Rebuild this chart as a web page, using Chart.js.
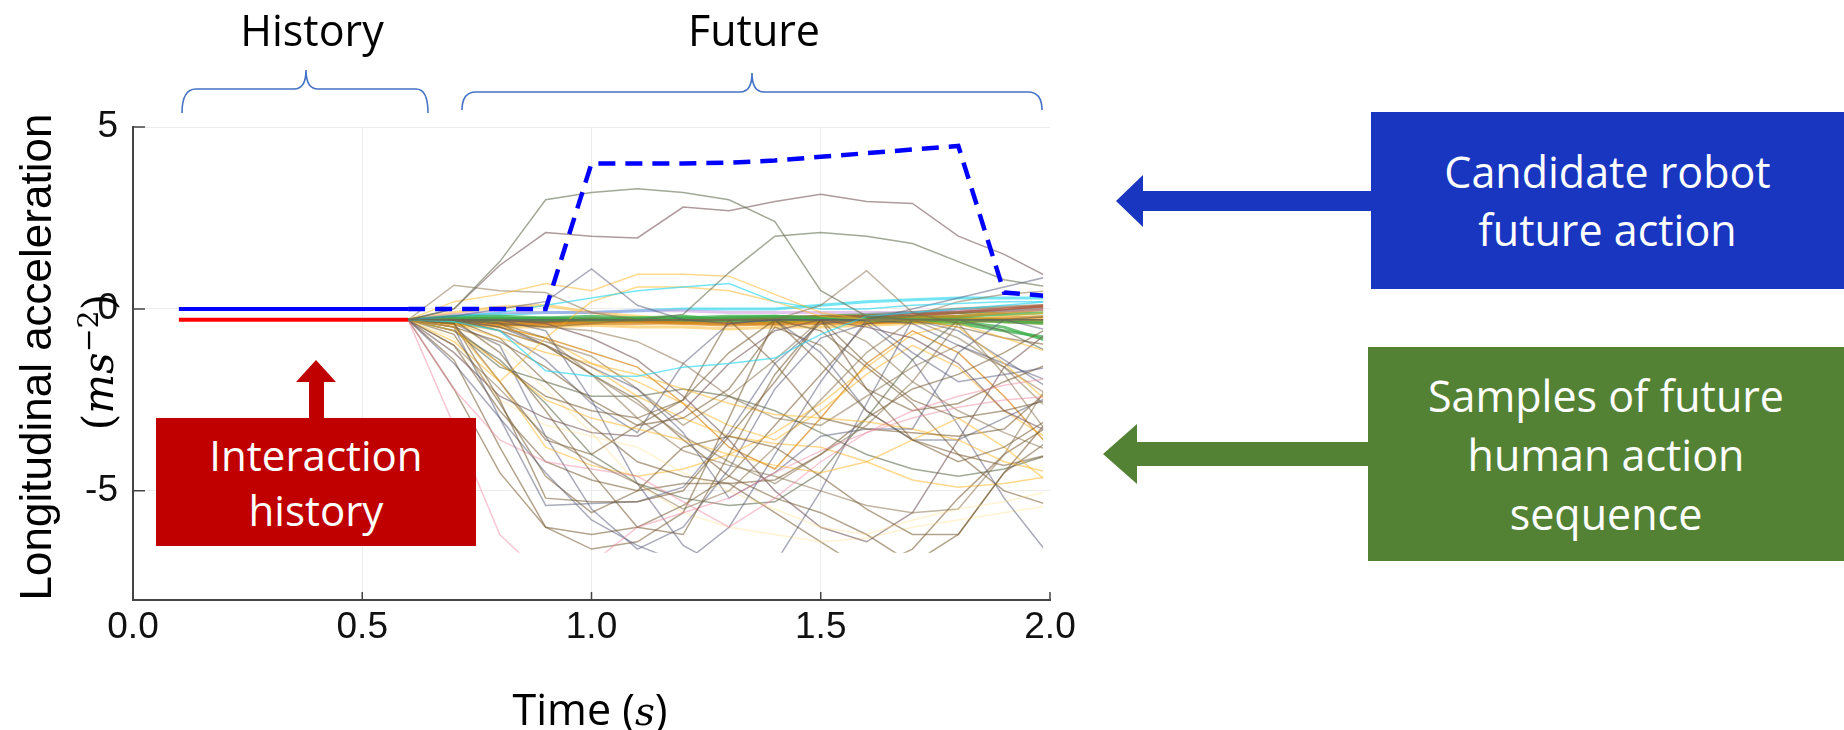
<!DOCTYPE html>
<html lang="en">
<head>
<meta charset="UTF-8">
<title>Candidate robot action and sampled human actions</title>
<script src="https://cdn.jsdelivr.net/npm/chart.js"></script>
<style>
    body { margin: 0; background: #fff; }
    #stage { position: relative; width: 1844px; height: 730px; overflow: hidden; font-family: 'Open Sans', sans-serif; }
    #plot { position: absolute; left: 0; top: 0; width: 1100px; height: 730px; }
    .label { position: absolute; white-space: nowrap; color: #000; line-height: 1; }
    .box { position: absolute; color: #fff; display: flex; align-items: center; justify-content: center; text-align: center; }
    svg.overlay { position: absolute; left: 0; top: 0; }
</style>
</head>
<body>
<div id="stage">
    <div id="plot"><canvas id="accelChart"></canvas></div>

    <svg class="overlay" width="1844" height="730">
        <!-- braces over the time axis -->
        <path d="M182,113 Q182,89 196,89 L294,89 Q306,89 306,70 Q306,89 318,89 L416,89 Q428,89 428,113" fill="none" stroke="#4472c4" stroke-width="1.6"/>
        <path d="M462,110 Q462,92 476,92 L740,92 Q752,92 752,73 Q752,92 764,92 L1028,92 Q1042,92 1042,110" fill="none" stroke="#4472c4" stroke-width="1.6"/>
        <!-- arrows -->
        <polygon points="1371,191 1143,191 1143,175 1116,201 1143,227 1143,211 1371,211" fill="#1836c0"/>
        <polygon points="1368,442 1137,442 1137,424 1103,454 1137,484 1137,466 1368,466" fill="#548235"/>
        <polygon points="309,419 309,382 296,382 316,360 336,382 324,382 324,419" fill="#c00000"/>
    </svg>

    <div class="label" style="left:312px; top:29px; font-size:43px; transform:translate(-50%,-50%);">History</div>
    <div class="label" style="left:754px; top:29px; font-size:43px; transform:translate(-50%,-50%);">Future</div>

    <div class="label" style="left:36px; top:357px; font-family:'Liberation Sans', Arial, sans-serif; font-size:44px; transform:translate(-50%,-50%) rotate(-90deg);">Longitudinal acceleration</div>
    <div class="label" style="left:97px; top:362px; font-family:'DejaVu Serif', serif; font-size:42px; transform:translate(-50%,-50%) rotate(-90deg);">(<i>ms</i><sup style="font-size:0.68em;">−2</sup>)</div>

    <div class="label" style="left:590px; top:709px; font-size:43px; transform:translate(-50%,-50%);">Time (<i style="font-family:'DejaVu Serif', serif; font-size:0.9em;">s</i>)</div>

    <div class="box" style="left:1371px; top:112px; width:473px; height:177px; background:#1836c0; font-size:43px; line-height:58px;">Candidate robot<br>future action</div>
    <div class="box" style="left:1368px; top:347px; width:476px; height:214px; background:#548235; font-size:43px; line-height:59px;">Samples of future<br>human action<br>sequence</div>
    <div class="box" style="left:156px; top:418px; width:320px; height:128px; background:#c00000; font-size:42px; line-height:55px;">Interaction<br>history</div>
</div>

<script>
    // axis ranges and ticks
    const xMin = 0, xMax = 2;
    const yMin = -8, yMax = 5;
    const xTickValues = [0, 0.5, 1.0, 1.5, 2.0];
    const yTickValues = [-5, 0, 5];

    // interaction history (0.1 s .. 0.6 s)
    const historyTimes = [0.1, 0.6];
    const robotHistory = [0, 0];
    const humanHistory = [-0.3, -0.3];

    // future steps, 0.1 s apart
    const futureTimes = [0.6, 0.7, 0.8, 0.9, 1.0, 1.1, 1.2, 1.3, 1.4, 1.5, 1.6, 1.7, 1.8, 1.9, 2.0];
    const robotPlan = [0, 0, 0, 0, 4.0, 4.0, 4.0, 4.02, 4.08, 4.18, 4.28, 4.38, 4.48, 0.45, 0.35];

    // sampled human action sequences (same time steps as futureTimes)
    const humanSamples = [
        [-0.3, 0.0, 1.3, 3.0, 3.2, 3.3, 3.2, 3.0, 2.4, 0.5, -0.2, -0.3, -0.3, -0.3, -0.2],
        [-0.3, 0.0, 1.2, 2.1, 2.0, 1.95, 2.8, 2.7, 2.95, 3.15, 2.95, 2.9, 2.0, 1.5, 0.85],
        [-0.3, -0.3, -0.3, -0.35, -0.3, -0.3, -0.15, 1.0, 2.0, 2.1, 2.0, 1.8, 1.3, 0.8, 0.6],
        [-0.3, -0.2, 0.0, 0.2, 1.1, 0.1, -0.3, -0.4, -0.3, -0.3, -0.3, -0.3, -0.3, -0.3, -0.3],
        [-0.3, -0.3, -0.4, -0.5, -0.4, -0.3, -0.3, -0.3, -0.3, 0.1, 1.05, -0.1, -0.4, -0.3, -0.3],
        [-0.3, 0.2, 0.4, 0.7, 0.5, 0.95, 0.95, 0.9, 0.4, -0.1, -0.3, -0.3, -0.3, -0.2, -0.1],
        [-0.3, -0.2, -0.1, 0.1, 0.3, 0.5, 0.6, 0.7, 0.2, 0.0, 0.0, 0.1, 0.15, 0.2, 0.2],
        [-0.3, -0.35, -0.6, -1.7, -1.85, -1.85, -1.6, -1.5, -1.35, -0.7, -0.2, -0.1, 0.0, 0.1, 0.2],
        [-0.3, 0.65, 0.5, 0.45, -0.1, -0.3, -0.3, -0.3, -0.3, -0.3, -0.3, -0.3, -0.3, -0.3, -0.3],
        [-0.3, -0.3, -0.3, -0.3, -0.3, -0.3, -0.3, -0.3, -0.3, -0.3, -0.3, 0.0, 0.3, 0.6, 0.9],
        [-0.3, -0.3, -0.3, -0.3, -0.3, -0.3, -0.3, -0.3, -0.3, -0.3, -0.3, -0.2, 0.2, 0.4, 0.5],
        [-0.3, -0.5, -2.0, -0.8, 0.2, 0.6, 0.6, 0.5, 0.2, -0.2, -0.3, -0.3, -0.5, -1.5, -2.6],
        [-0.3, -0.4, -2.5, -5.2, -5.3, -5.3, -5.0, -3.5, -2.0, -0.3, -1.5, -2.5, -3.0, -2.8, -2.5],
        [-0.3, -0.5, -3.0, -5.4, -5.35, -5.3, -4.9, -3.4, -1.5, -0.4, -0.3, -1.2, -2.0, -1.8, -1.6],
        [-0.3, -1.0, -2.2, -3.5, -4.2, -4.8, -5.5, -5.0, -3.8, -2.5, -1.2, -0.3, -0.8, -1.6, -2.4],
        [-0.3, -0.3, -1.2, -2.8, -4.5, -6.0, -6.2, -4.0, -1.8, -0.3, -2.2, -3.6, -4.2, -3.8, -3.0],
        [-0.3, -2.2, -3.6, -4.2, -4.4, -4.6, -5.3, -6.0, -5.2, -4.2, -3.4, -2.8, -2.4, -2.1, -1.9],
        [-0.3, -3.2, -6.2, -7.4, -7.0, -6.0, -5.6, -5.2, -4.5, -3.9, -3.4, -3.0, -2.7, -2.5, -2.4],
        [-0.3, -1.5, -3.0, -4.5, -5.8, -6.5, -7.0, -6.0, -4.0, -2.0, -0.3, -0.4, -1.0, -1.5, -2.0],
        [-0.3, -0.5, -0.9, -1.6, -2.5, -3.2, -3.0, -2.2, -0.5, -1.0, -2.2, -2.8, -2.6, -2.0, -1.5],
        [-0.3, -0.3, -0.6, -1.0, -1.8, -2.6, -3.5, -4.2, -4.8, -4.0, -3.2, -2.0, -0.4, -1.8, -3.5],
        [-0.3, -0.6, -1.5, -2.5, -3.0, -3.3, -3.6, -4.0, -4.3, -4.5, -4.2, -3.6, -3.0, -3.8, -4.8],
        [-0.3, -0.8, -2.5, -3.2, -3.5, -3.8, -4.5, -5.0, -5.5, -6.0, -6.2, -5.8, -5.5, -5.3, -5.0],
        [-0.3, -0.4, -2.0, -3.6, -4.0, -3.2, -2.5, -0.3, -1.5, -3.0, -3.3, -3.4, -3.5, -3.3, -2.2],
        [-0.3, -1.2, -2.4, -3.0, -3.4, -3.5, -2.8, -1.5, -0.6, -0.3, -0.5, -0.8, -1.5, -2.8, -3.4],
        [-0.3, -0.3, -0.5, -1.0, -1.6, -2.2, -3.4, -5.2, -4.5, -3.5, -3.3, -3.3, -1.2, -0.3, -0.6],
        [-0.3, -0.7, -2.6, -4.6, -5.6, -5.0, -3.8, -3.5, -3.8, -4.6, -5.5, -6.2, -6.2, -4.5, -3.0],
        [-0.3, -0.3, -0.4, -0.8, -1.8, -3.0, -3.9, -4.3, -4.6, -5.0, -5.4, -5.6, -5.5, -4.0, -2.0],
        [-0.3, -0.4, -0.8, -1.2, -1.5, -1.8, -2.2, -2.6, -2.9, -3.0, -3.1, -3.3, -3.6, -4.2, -4.5],
        [-0.3, -1.4, -3.8, -6.0, -6.6, -6.4, -5.6, -3.0, -0.3, -1.5, -2.8, -3.6, -4.0, -4.3, -4.0],
        [-0.3, -0.3, -0.3, -0.6, -2.5, -4.8, -6.5, -7.2, -7.0, -5.0, -2.6, -0.3, -0.6, -1.4, -2.2],
        [-0.3, -0.6, -1.4, -2.6, -4.0, -4.8, -5.2, -5.4, -5.3, -4.5, -3.0, -1.4, -0.3, -0.6, -1.2],
        [-0.3, -0.3, -0.8, -2.0, -3.2, -4.2, -4.6, -4.8, -4.7, -4.0, -3.0, -2.2, -1.8, -1.2, -0.5],
        [-0.3, -0.9, -2.0, -3.8, -4.3, -4.6, -4.4, -4.0, -3.4, -2.6, -1.6, -0.7, -0.4, -0.8, -1.2],
        [-0.3, -0.3, -0.5, -0.9, -1.3, -2.2, -3.2, -2.4, -1.4, -0.3, -0.9, -2.0, -2.8, -3.4, -3.9],
        [-0.3, -2.2, -4.5, -6.0, -6.2, -6.0, -5.4, -4.6, -3.2, -1.8, -0.4, -0.3, -0.5, -0.8, -1.0],
        [-0.3, -0.4, -1.0, -3.5, -5.5, -6.6, -6.0, -4.4, -2.2, -0.8, -0.4, -1.4, -3.2, -5.2, -6.8],
        [-0.3, -0.3, -0.3, -0.4, -0.8, -1.4, -2.4, -3.6, -5.0, -6.0, -6.4, -5.6, -3.6, -1.6, -0.6],
        [-0.3, -0.5, -1.5, -2.4, -2.8, -3.0, -2.5, -1.2, -0.3, -0.6, -1.6, -2.6, -4.0, -5.0, -5.4],
        [-0.3, -0.4, -0.6, -1.0, -1.6, -2.4, -3.0, -3.5, -3.7, -3.8, -4.2, -4.7, -4.9, -4.8, -4.6],
        [-0.3, -0.5, -1.0, -2.2, -3.4, -4.8, -5.6, -6.0, -6.2, -6.4, -6.3, -6.0, -5.8, -5.6, -5.4],
        [-0.3, -0.3, -0.4, -0.5, -0.6, -0.9, -1.5, -2.4, -3.0, -3.2, -2.4, -1.6, -1.0, -1.6, -2.8],
        [-0.3, -1.0, -2.8, -4.2, -4.7, -5.0, -4.8, -4.8, -5.6, -6.4, -7.2, -6.6, -5.2, -4.0, -3.2],
        [-0.3, -0.3, -0.6, -1.4, -2.6, -3.4, -1.5, -0.4, -0.3, -1.2, -2.8, -3.6, -3.6, -3.0, -2.4],
        [-0.3, -0.3, -0.5, -0.8, -1.5, -2.0, -2.6, -3.2, -3.6, -2.8, -1.8, -1.0, -1.6, -2.8, -3.6],
        [-0.3, -0.3, -0.4, -1.0, -1.8, -2.5, -3.6, -4.6, -5.2, -5.6, -6.2, -7.0, -6.2, -4.5, -3.6],
        [-0.3, -0.6, -1.6, -2.0, -2.4, -2.4, -2.2, -2.4, -2.8, -3.4, -4.0, -4.4, -4.6, -4.4, -4.0],
        [-0.3, -0.3, -0.5, -0.8, -1.2, -1.6, -2.6, -3.8, -4.4, -3.0, -1.5, -0.6, -1.2, -2.4, -3.8],
        [-0.3, -0.3, -0.25, -0.3, -0.3, -0.28, -0.3, -0.32, -0.3, -0.28, -0.3, -0.3, -0.35, -0.5, -0.9],
        [-0.3, -0.35, -0.3, -0.25, -0.2, -0.25, -0.3, -0.25, -0.2, -0.25, -0.3, -0.3, -0.3, -0.35, -0.4],
        [-0.3, -0.4, -0.42, -0.45, -0.4, -0.4, -0.38, -0.4, -0.42, -0.4, -0.38, -0.35, -0.3, -0.25, -0.2],
        [-0.3, -0.45, -0.5, -0.5, -0.45, -0.5, -0.5, -0.55, -0.5, -0.5, -0.45, -0.4, -0.35, -0.3, -0.3],
        [-0.3, -0.3, -0.3, -0.35, -0.3, -0.3, -0.3, -0.3, -0.25, -0.2, -0.2, -0.15, -0.1, 0.0, 0.1],
        [-0.3, -0.2, -0.2, -0.25, -0.3, -0.3, -0.25, -0.2, -0.2, -0.25, -0.3, -0.35, -0.4, -0.6, -0.8],
        [-0.3, -0.15, -0.1, -0.1, -0.1, -0.05, -0.05, -0.1, -0.1, -0.1, -0.1, -0.1, -0.05, -0.05, 0.0],
        [-0.3, -0.35, -0.35, -0.4, -0.35, -0.3, -0.35, -0.4, -0.35, -0.3, -0.3, -0.25, -0.2, -0.1, 0.0],
        [-0.3, -0.25, -0.3, -0.35, -0.3, -0.25, -0.2, -0.3, -0.35, -0.3, -0.25, -0.2, -0.25, -0.3, -0.35],
        [-0.3, -0.3, -0.35, -0.3, -0.25, -0.3, -0.35, -0.3, -0.3, -0.25, -0.2, -0.1, 0.0, 0.05, 0.1],
        [-0.3, -0.1, 0.05, 0.1, -0.1, -0.2, -0.3, -0.3, -0.35, -0.4, -0.4, -0.35, -0.3, -0.3, -0.25],
        [-0.3, -0.3, -0.28, -0.3, -0.32, -0.3, -0.28, -0.3, -0.25, -0.2, -0.15, -0.1, -0.1, -0.05, 0.0],
        [-0.3, -0.2, -0.15, -0.1, -0.1, -0.05, 0.0, 0.0, 0.0, 0.1, 0.2, 0.25, 0.3, 0.3, 0.3],
        [-0.3, -0.4, -0.45, -0.4, -0.35, -0.35, -0.4, -0.45, -0.4, -0.35, -0.3, -0.3, -0.3, -0.35, -0.4],
        [-0.3, -0.25, -0.28, -0.3, -0.3, -0.3, -0.28, -0.25, -0.25, -0.28, -0.25, -0.2, -0.1, -0.05, 0.05],
        [-0.3, -0.32, -0.35, -0.32, -0.3, -0.33, -0.35, -0.32, -0.3, -0.32, -0.35, -0.3, -0.28, -0.3, -0.32],
        [-0.3, -0.28, -0.26, -0.28, -0.3, -0.27, -0.25, -0.28, -0.3, -0.28, -0.26, -0.25, -0.2, -0.15, -0.1]
    ];

    // colour of each sample, by palette name
    const palette = {
        olive: 'rgba(100, 112, 80, 0.6)',
        mauve: 'rgba(120, 88, 92, 0.6)',
        slate: 'rgba(84, 88, 118, 0.5)',
        taupe: 'rgba(132, 108, 70, 0.5)',
        brown: 'rgba(118, 90, 48, 0.55)',
        gold: 'rgba(255, 180, 30, 0.5)',
        pale: 'rgba(255, 222, 130, 0.35)',
        cyan: 'rgba(40, 215, 240, 0.65)',
        green: 'rgba(60, 175, 75, 0.75)',
        pink: 'rgba(240, 130, 160, 0.45)',
        orange: 'rgba(215, 135, 25, 0.7)',
        red: 'rgba(180, 80, 50, 0.65)',
        violet: 'rgba(200, 140, 220, 0.5)'
    };
    const sampleColors = [
        'olive', 'mauve', 'olive', 'slate', 'taupe', 'gold', 'cyan', 'cyan', 'taupe', 'slate', 'taupe', 'gold',
        'brown', 'slate', 'taupe', 'brown', 'pink', 'pink', 'slate', 'brown', 'taupe', 'gold', 'pale', 'brown',
        'mauve', 'slate', 'brown', 'taupe', 'gold', 'brown', 'slate', 'olive', 'brown', 'gold', 'taupe', 'brown',
        'slate', 'mauve', 'brown', 'gold', 'pale', 'taupe', 'brown', 'slate', 'gold', 'brown', 'olive', 'orange',
        'green', 'green', 'orange', 'gold', 'red', 'green', 'violet', 'orange', 'green', 'brown', 'gold', 'green',
        'cyan', 'orange', 'red', 'brown', 'green'
    ];
    const bandStart = 48; // samples from here on hug the -0.3 band

    // where the pasted plot image was cropped
    const clipBottomValue = -6.7;
    const clipRightValue = 1.985;

    const toPoints = (times, values) => times.map((t, i) => ({ x: t, y: values[i] }));

    const datasets = [
        { data: toPoints(historyTimes, robotHistory), borderColor: '#0000ff', borderWidth: 4 },
        { data: toPoints(historyTimes, humanHistory), borderColor: '#ff0000', borderWidth: 4 },
        { data: toPoints(futureTimes, robotPlan), borderColor: '#0000ff', borderWidth: 4.5, borderDash: [17, 10] }
    ];
    humanSamples.forEach((values, i) => {
        datasets.push({
            data: toPoints(futureTimes, values),
            borderColor: palette[sampleColors[i]],
            borderWidth: i >= bandStart ? 3 : 1.5
        });
    });

    // clip the sample lines like the cropped source picture
    const cropPlugin = {
        id: 'crop',
        beforeDatasetsDraw(chart) {
            const { ctx, chartArea, scales } = chart;
            const right = scales.x.getPixelForValue(clipRightValue);
            const bottom = scales.y.getPixelForValue(clipBottomValue);
            ctx.save();
            ctx.beginPath();
            ctx.rect(chartArea.left, chartArea.top, right - chartArea.left, bottom - chartArea.top);
            ctx.clip();
        },
        afterDatasetsDraw(chart) {
            chart.ctx.restore();
        }
    };

    // small inward ticks on both axes
    const innerTicks = {
        id: 'innerTicks',
        afterDraw(chart) {
            const { ctx, chartArea, scales } = chart;
            ctx.save();
            ctx.strokeStyle = '#444';
            ctx.lineWidth = 1.5;
            ctx.beginPath();
            xTickValues.forEach(v => {
                if (v === xMin) return;
                const px = scales.x.getPixelForValue(v);
                ctx.moveTo(px, chartArea.bottom);
                ctx.lineTo(px, chartArea.bottom - 8);
            });
            yTickValues.forEach(v => {
                const py = scales.y.getPixelForValue(v);
                ctx.moveTo(chartArea.left, py);
                ctx.lineTo(chartArea.left + 12, py);
            });
            ctx.stroke();
            ctx.restore();
        }
    };

    const tickFont = { family: "'Liberation Sans', Arial, sans-serif", size: 37 };

    new Chart(document.getElementById('accelChart'), {
        type: 'line',
        data: { datasets: datasets },
        options: {
            responsive: true,
            maintainAspectRatio: false,
            animation: false,
            events: [],
            layout: { padding: { top: 127, right: 50, left: 0, bottom: 0 } },
            elements: {
                point: { radius: 0 },
                line: { tension: 0, fill: false }
            },
            plugins: {
                legend: { display: false },
                tooltip: { enabled: false }
            },
            scales: {
                x: {
                    type: 'linear',
                    min: xMin,
                    max: xMax,
                    afterBuildTicks: axis => { axis.ticks = xTickValues.map(v => ({ value: v })); },
                    afterFit: axis => { axis.height = 130; },
                    ticks: {
                        font: tickFont,
                        color: '#111',
                        padding: 6,
                        maxRotation: 0,
                        callback: v => Number(v).toFixed(1)
                    },
                    grid: {
                        drawTicks: false,
                        color: c => (c.tick && (c.tick.value === xMin || c.tick.value === xMax)) ? 'rgba(0,0,0,0)' : '#ececec'
                    },
                    border: { display: true, color: '#444', width: 2 }
                },
                y: {
                    type: 'linear',
                    min: yMin,
                    max: yMax,
                    afterBuildTicks: axis => { axis.ticks = yTickValues.map(v => ({ value: v })); },
                    afterFit: axis => { axis.width = 133; },
                    ticks: {
                        font: tickFont,
                        color: '#111',
                        padding: 15
                    },
                    grid: { drawTicks: false, color: '#ececec' },
                    border: { display: true, color: '#444', width: 2 }
                }
            }
        },
        plugins: [cropPlugin, innerTicks]
    });
</script>
</body>
</html>
